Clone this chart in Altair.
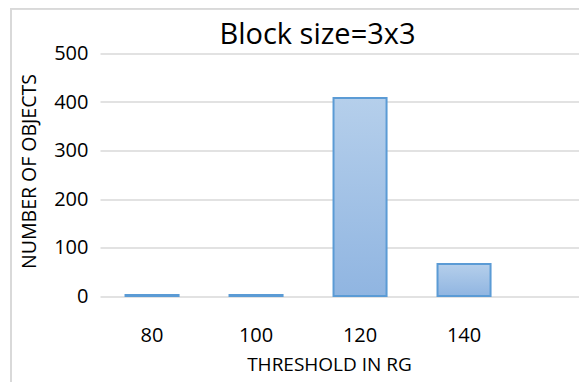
import altair as alt
import pandas as pd

thresholds = ["80", "100", "120", "140"]
counts = [2, 2, 408, 66]
chart_title = ["Block size=3x3"]

df = pd.DataFrame({"threshold": thresholds, "count": counts})
tdf = pd.DataFrame({"t": chart_title})

FONT = "Open Sans"
GRID = "#d9d9d9"

bars = alt.Chart(df).mark_bar(
    color=alt.Gradient(
        gradient="linear",
        stops=[alt.GradientStop(color="#b5cfeb", offset=0),
               alt.GradientStop(color="#90b5e1", offset=1)],
        x1=0, x2=0, y1=0, y2=1,
    ),
    stroke="#5b9bd5",
    strokeWidth=2,
).encode(
    x=alt.X("threshold:N", sort=thresholds,
            scale=alt.Scale(paddingInner=0.49, paddingOuter=0.548, align=0.224),
            axis=alt.Axis(title="THRESHOLD IN RG", labelAngle=0, domain=False, ticks=False,
                          labelPadding=29, labelFontSize=20, labelFont=FONT, labelColor="#000000",
                          titleFont=FONT, titleFontSize=19, titleFontWeight="normal", titleColor="#000000",
                          titleX=229, titleY=68, titleBaseline="middle", titleAlign="center")),
    y=alt.Y("count:Q", scale=alt.Scale(domain=[0, 500]),
            axis=alt.Axis(title="NUMBER OF OBJECTS", values=[0, 100, 200, 300, 400, 500],
                          domain=False, ticks=False, labelPadding=12, labelFontSize=20,
                          labelFont=FONT, labelColor="#000000", gridColor=GRID, gridWidth=1.5,
                          titleFont=FONT, titleFontSize=19.5, titleFontWeight="normal", titleColor="#000000",
                          titleX=-71, titleY=117.5, titleAngle=-90, titleBaseline="middle",
                          titleAlign="center")),
)

border = alt.Chart(df).mark_rect(fill=None, stroke=GRID, strokeWidth=2).encode(
    x=alt.value(-89), x2=alt.value(600), y=alt.value(-45), y2=alt.value(400)
)

title = alt.Chart(tdf).mark_text(font=FONT, fontSize=29, color="#000000",
                                 align="center", baseline="alphabetic").encode(
    text="t:N", x=alt.value(217.5), y=alt.value(-9.5)
)

chart = alt.layer(border, bars, title).properties(
    width=479,
    height=242.5,
    padding={"left": 92, "top": 45.5, "right": 0, "bottom": 86},
    autosize=alt.AutoSizeParams(type="none"),
).configure_view(stroke=None)

chart.save("out.html", embed_options={"renderer": "svg", "actions": False})
